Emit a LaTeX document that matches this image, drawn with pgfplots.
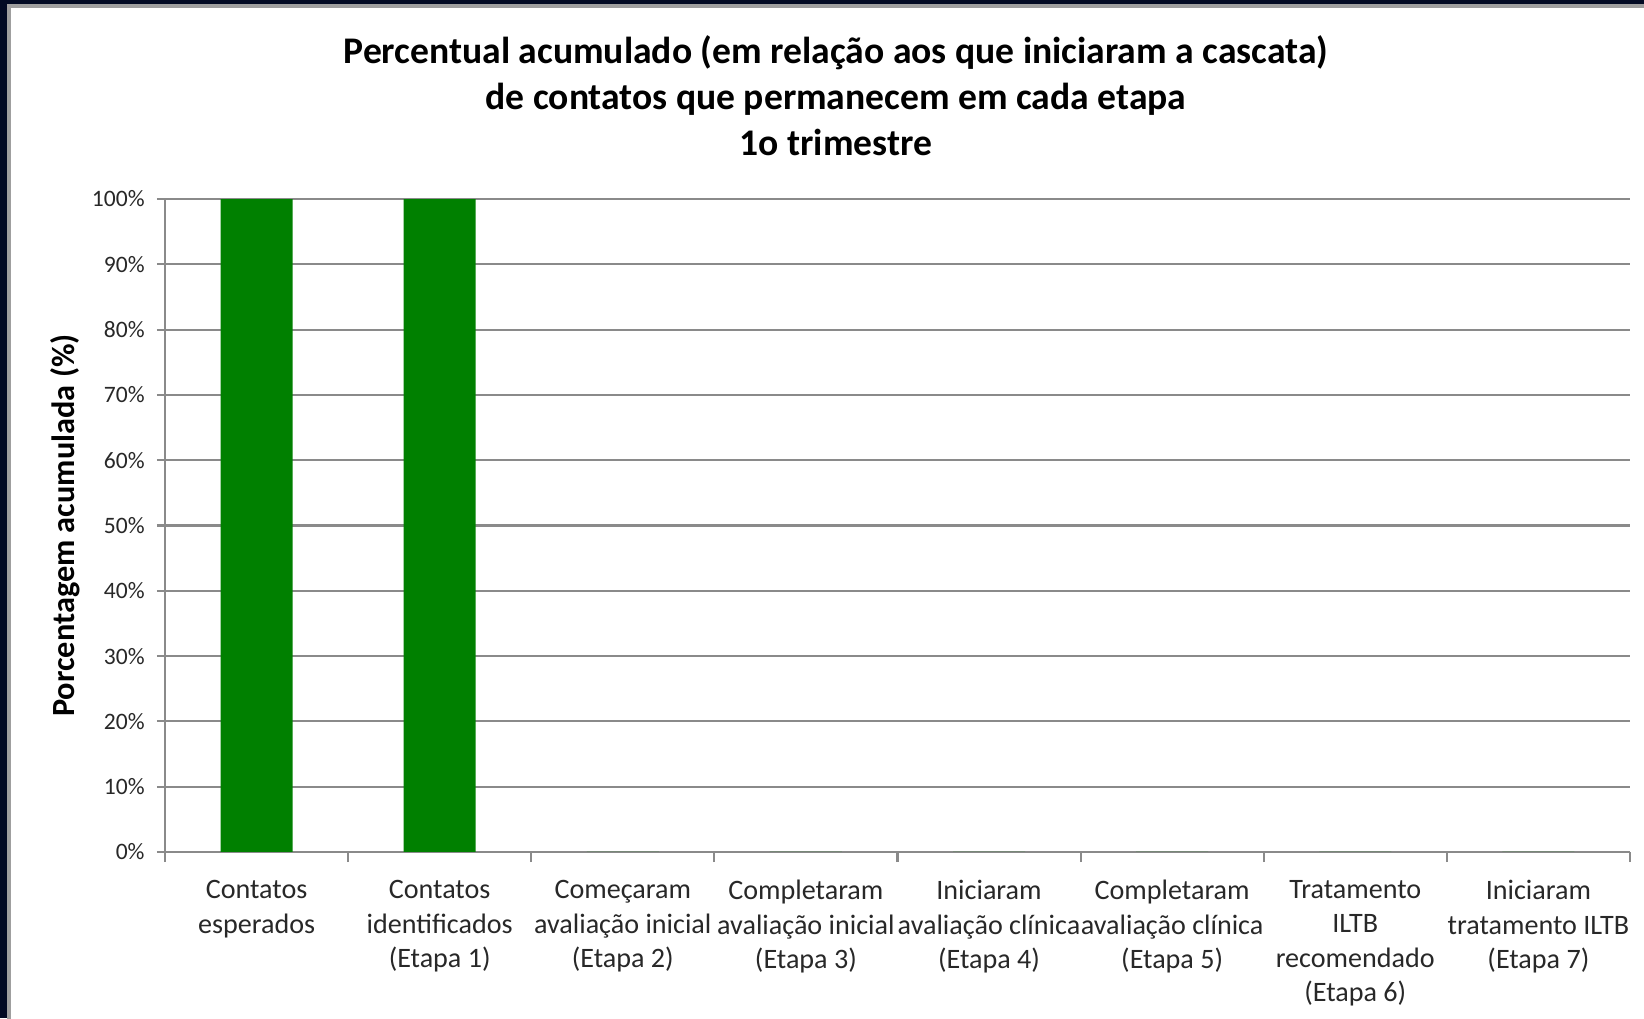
\documentclass[border=0pt]{standalone}
\usepackage{fontspec}
\setmainfont{Carlito}
\usepackage{pgfplots}
\pgfplotsset{compat=1.18}
\definecolor{navy}{RGB}{2,10,36}
\definecolor{bargreen}{RGB}{0,128,0}
\definecolor{gridgray}{RGB}{138,138,138}
\definecolor{txtgray}{RGB}{40,40,40}
\begin{document}
\begin{tikzpicture}
\path[use as bounding box] (0,0) rectangle (16.44,10.18);
\fill[navy] (0,0) rectangle (16.44,10.18);
\fill[white] (0.09,0) rectangle (16.44,10.12);
\draw[gray!75, line width=0.9pt] (0.09,-0.1) -- (0.09,10.12) -- (16.6,10.12);
\node[anchor=north, align=center, font=\fontsize{10.7}{13.1}\selectfont\bfseries, inner sep=0pt] at (8.36,9.83)
  {Percentual acumulado (em relação aos que iniciaram a cascata)\\de contatos que permanecem em cada etapa\\1o trimestre};
\begin{axis}[
  at={(1.65cm,1.66cm)}, anchor=south west,
  scale only axis, width=14.65cm, height=6.53cm,
  xmin=-0.5, xmax=7.5, ymin=0, ymax=100,
  axis x line*=bottom, axis y line*=left,
  axis line style={gridgray, line width=0.6pt},
  tick align=outside,
  ytick={0,10,...,100},
  yticklabel={\pgfmathprintnumber{\tick}\%},
  ymajorgrids, grid style={gridgray, line width=0.6pt},
  major tick length=0.08cm,
  ytick style={gridgray, line width=0.6pt},
  xtick={0,...,7},
  x tick style={draw=none},
  minor xtick={-0.5,0.5,...,7.5},
  minor x tick style={draw=gridgray, line width=0.6pt},
  minor tick length=0.1cm,
  xticklabels={{Contatos\\esperados},{Contatos\\identificados\\(Etapa 1)},{Começaram\\avaliação inicial\\(Etapa 2)},{Completaram\\avaliação inicial\\(Etapa 3)},{Iniciaram\\avaliação clínica\\(Etapa 4)},{Completaram\\avaliação clínica\\(Etapa 5)},{Tratamento\\ILTB\\recomendado\\(Etapa 6)},{Iniciaram\\tratamento ILTB\\(Etapa 7)}},
  xticklabel style={align=center, font=\fontsize{8}{9.8}\selectfont, text=txtgray, anchor=north, yshift=-0.08cm},
  yticklabel style={font=\fontsize{6.7}{8}\selectfont, text=txtgray, /pgf/number format/assume math mode=true},
  /pgf/number format/assume math mode=true,
  ylabel={Porcentagem acumulada (\%)},
  every axis y label/.style={at={(axis description cs:-0.0683,0.5)}, rotate=90, anchor=center, font=\fontsize{9.2}{11}\selectfont\bfseries},
  clip=false,
]
\addplot[ybar, bar width=0.72cm, fill=bargreen, draw=none] coordinates {(0,100) (1,100) (2,0) (3,0) (4,0) (5,0) (6,0) (7,0)};
\end{axis}
\end{tikzpicture}
\end{document}
